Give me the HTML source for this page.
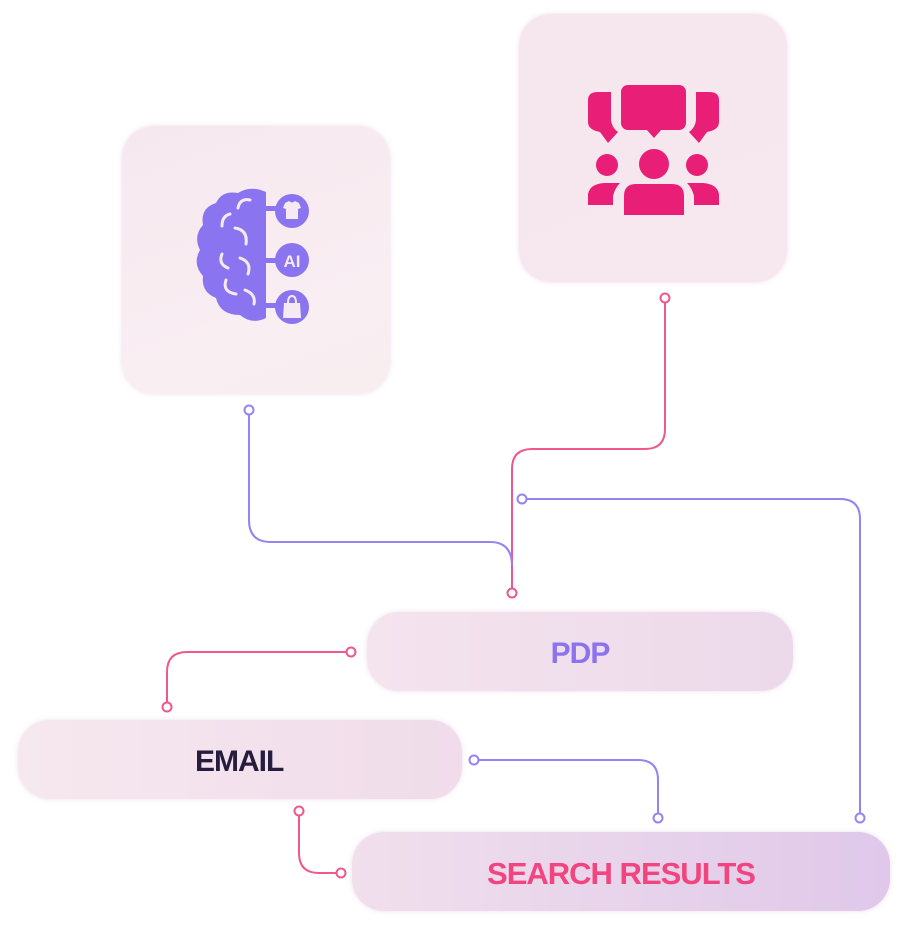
<!DOCTYPE html>
<html><head><style>
html,body{margin:0;padding:0;background:#fff;width:908px;height:933px;overflow:hidden;font-family:"Liberation Sans",sans-serif;}
.b{position:absolute;border-radius:30px;box-shadow:0 0 4px rgba(220,190,220,.5);}
.t{position:absolute;display:flex;align-items:center;justify-content:center;font-weight:bold;letter-spacing:-1px;padding-top:4px;box-sizing:border-box;}
</style></head><body>
<div class="b" style="left:122px;top:126px;width:268px;height:268px;background:linear-gradient(160deg,#f6e8ef,#f9eef2 70%,#f8eef0);border-radius:32px"></div>
<div class="b" style="left:519px;top:14px;width:268px;height:268px;background:linear-gradient(160deg,#f6e6ee,#f7e8ef);border-radius:32px"></div>
<div class="b t" style="left:367px;top:612px;width:426px;height:79px;background:linear-gradient(90deg,#f4e4ee,#ecd9ea);color:#8c73ee;font-size:30px;border-radius:32px">PDP</div>
<div class="b t" style="left:18px;top:720px;width:444px;height:79px;background:linear-gradient(90deg,#f6e8ef,#f0dcea);color:#251c3e;font-size:30px;justify-content:flex-start;border-radius:32px"><span style="margin-left:177px">EMAIL</span></div>
<div class="b t" style="left:352px;top:832px;width:538px;height:79px;background:linear-gradient(90deg,#f1dfec,#dfc8ea);color:#f2447f;font-size:31px;border-radius:32px">SEARCH RESULTS</div>
<svg width="908" height="933" style="position:absolute;left:0;top:0" fill="none" stroke-width="2">
<g stroke="#f0578a">
<path d="M665 303 V429 Q665 449 645 449 H532 Q512 449 512 469 V588"/>
<circle cx="665" cy="298" r="4.5" fill="#fff"/>
<circle cx="512" cy="593" r="4.5" fill="#fff"/>
<path d="M346 652 H187 Q167 652 167 672 V702"/>
<circle cx="351" cy="652" r="4.5" fill="#fff"/>
<circle cx="167" cy="707" r="4.5" fill="#fff"/>
<path d="M299 816 V853 Q299 873 319 873 H336"/>
<circle cx="299" cy="811" r="4.5" fill="#fff"/>
<circle cx="341" cy="873" r="4.5" fill="#fff"/>
</g>
<g stroke="#9582f3">
<path d="M249 415 V520 Q249 542 271 542 H490 Q512 542 512 566"/>
<circle cx="249" cy="410" r="4.5" fill="#fff"/>
<path d="M527 499 H840 Q860 499 860 519 V813"/>
<circle cx="522" cy="499" r="4.5" fill="#fff"/>
<circle cx="860" cy="818" r="4.5" fill="#fff"/>
<path d="M479 760 H638 Q658 760 658 780 V813"/>
<circle cx="474" cy="760" r="4.5" fill="#fff"/>
<circle cx="658" cy="818" r="4.5" fill="#fff"/>
</g>
<g fill="#8a74ef">
<path d="M266 192 Q250 185 238 193 Q222 190 216 203 Q200 208 203 225 Q193 236 200 250 Q192 264 203 276 Q201 292 216 298 Q220 315 240 315 Q252 325 266 318 Z"/>
<rect x="258" y="206" width="18" height="5"/><rect x="258" y="258" width="18" height="5"/><rect x="258" y="303" width="18" height="5"/>
<circle cx="292" cy="211" r="17"/><circle cx="292" cy="260" r="17"/><circle cx="292" cy="307" r="17"/>
</g>
<g stroke="#f5eaf2" stroke-width="3" stroke-linecap="round" fill="none">
<path d="M250 200 Q240 198 238 208"/><path d="M230 214 Q222 216 222 226"/><path d="M235 228 Q248 230 246 244"/>
<path d="M222 254 Q218 264 228 268"/><path d="M240 258 Q252 262 248 274"/><path d="M226 280 Q222 292 236 294"/><path d="M245 290 Q256 294 254 304"/>
</g>
<g fill="#f5eaf2">
<path d="M285 203 L289 201 Q292 204 295 201 L299 203 L301 208 L298 209 L298 219 L286 219 L286 209 L283 208 Z"/>
<path d="M284 303 H300 L301 318 H283 Z"/>
</g>
<path d="M288 303 Q288 296 292 296 Q296 296 296 303" stroke="#f5eaf2" stroke-width="2" fill="none"/>
<text x="292" y="267" text-anchor="middle" fill="#f5eaf2" stroke="none" font-family="Liberation Sans" font-weight="bold" font-size="17">AI</text>
<g fill="#e91e77">
<rect x="621" y="85" width="65" height="45" rx="7"/>
<path d="M646 129 L654 138 L662 129 Z"/>
<path d="M598 92 H611 V120 Q612 128 618 132 L608 143 L600 132 Q588 130 588 122 V100 Q588 92 598 92Z"/>
<path d="M709 92 H696 V120 Q695 128 689 132 L699 143 L707 132 Q719 130 719 122 V100 Q719 92 709 92Z"/>
<circle cx="654" cy="164" r="15"/>
<circle cx="607" cy="165" r="11"/><circle cx="697" cy="165" r="11"/>
<path d="M624 215 V196 Q624 184 636 184 H672 Q684 184 684 196 V215 Z"/>
<path d="M588 205 V194 Q590 184 604 183 H620 Q615 188 613 196 V205 Z"/>
<path d="M719 205 V194 Q717 184 703 183 H687 Q692 188 694 196 V205 Z"/>
</g>
</svg>
</body></html>
